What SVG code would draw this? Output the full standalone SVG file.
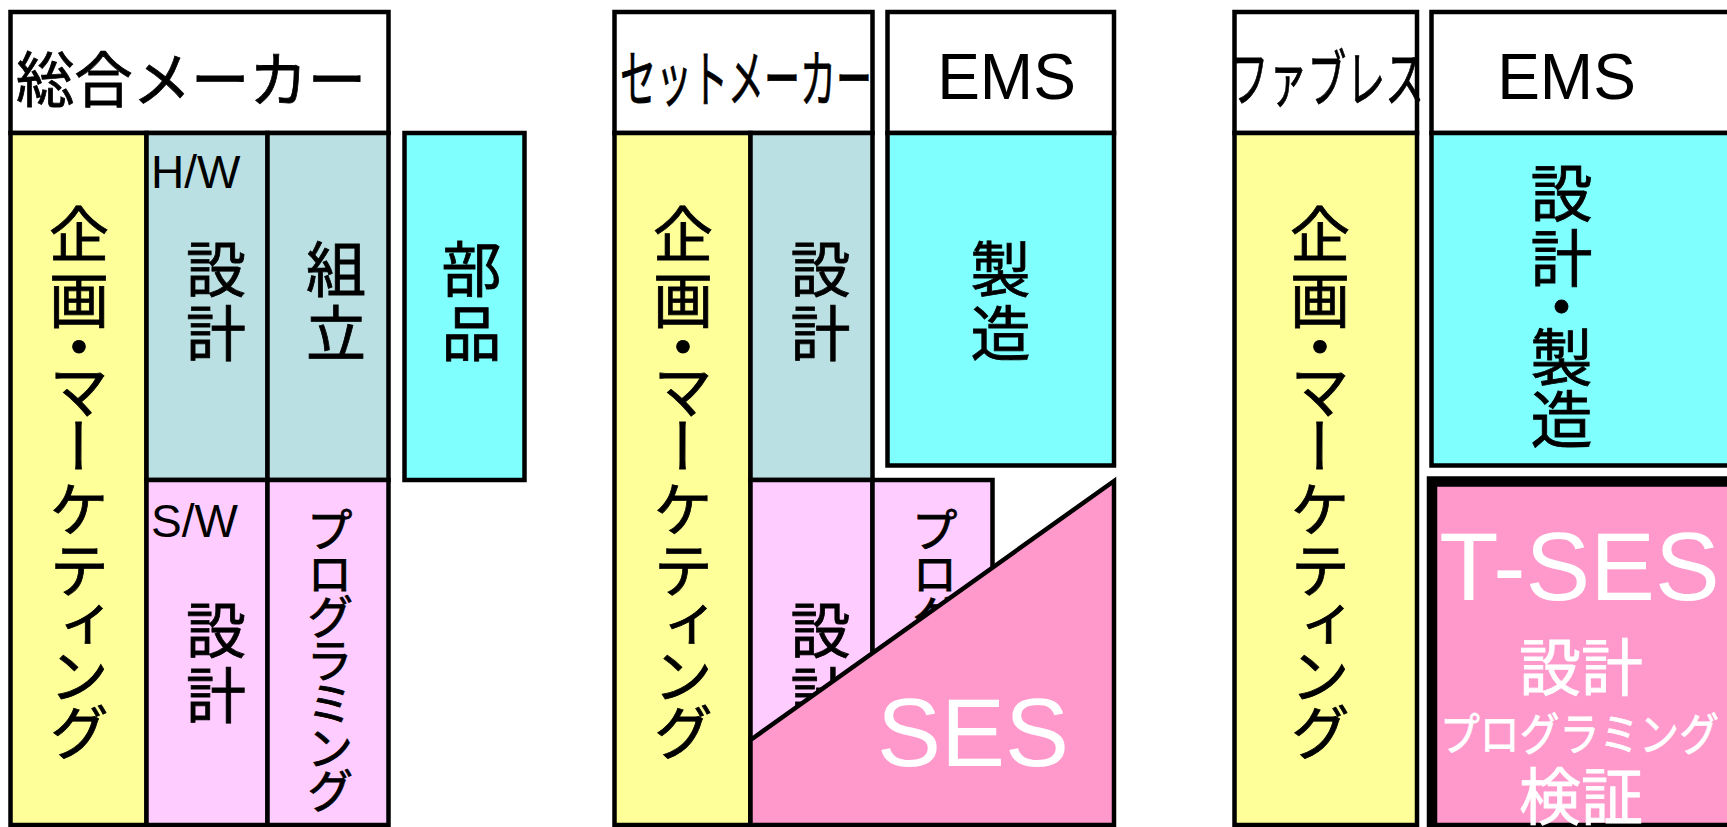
<svg xmlns="http://www.w3.org/2000/svg" width="1727" height="827" viewBox="0 0 1727 827">
<style>
  .box { stroke: #000; stroke-width: 4.5; stroke-linejoin: miter; }
  .white { fill: #FFFFFF; }
  .yellow { fill: #FFFF99; }
  .gray { fill: #BBE0E3; }
  .cyan { fill: #80FFFF; }
  .lpink { fill: #FFCCFF; }
  .pink { fill: #FF99CC; }
  .jp { font-family: "Noto Sans CJK JP", "Noto Sans", sans-serif; fill: #000; stroke: #000; stroke-width: 0.8; }
  .v { font-family: "Noto Sans CJK JP", sans-serif; writing-mode: vertical-rl; fill: #000; stroke: #000; stroke-width: 0.8; }
  .lat { font-family: "Liberation Sans", Arial, sans-serif; fill: #000; }
  .mid { text-anchor: middle; }
  .wt { fill: #FFFFFF; stroke: #FFFFFF; }
  .lat.wt { stroke: none; }
</style>
<rect x="0" y="0" width="1727" height="827" fill="#FFFFFF"/>

<!-- Panel 1: 総合メーカー -->
<g id="p1-header">
  <rect class="box white" x="10.5" y="12" width="378" height="121"/>
  <text class="jp" x="16" y="102" font-size="60" textLength="350" lengthAdjust="spacingAndGlyphs">総合メーカー</text>
</g>
<g id="p1-planning">
  <rect class="box yellow" x="10.5" y="133" width="136" height="692"/>
  <text class="v" x="79" y="204.5 270 317.5 361 416.5 479 540 595 646 702.5" font-size="60">企画・マーケティング</text>
</g>
<g id="p1-hw-design">
  <rect class="box gray" x="146.5" y="133" width="121" height="347"/>
  <text class="lat" x="151" y="188" font-size="46">H/W</text>
  <text class="jp mid" x="216" y="292" font-size="60">設</text>
  <text class="jp mid" x="216" y="356" font-size="60">計</text>
</g>
<g id="p1-assembly">
  <rect class="box gray" x="267.5" y="133" width="121" height="347"/>
  <text class="jp mid" x="336" y="292" font-size="60">組</text>
  <text class="jp mid" x="336" y="356" font-size="60">立</text>
</g>
<g id="p1-sw-design">
  <rect class="box lpink" x="146.5" y="480" width="121" height="345"/>
  <text class="lat" x="151" y="537" font-size="46">S/W</text>
  <text class="jp mid" x="216" y="653" font-size="60">設</text>
  <text class="jp mid" x="216" y="718" font-size="60">計</text>
</g>
<g id="p1-programming">
  <rect class="box lpink" x="267.5" y="480" width="121" height="345"/>
  <text class="v" x="330" y="506" font-size="47" letter-spacing="-3.5">プログラミング</text>
</g>
<g id="p1-parts">
  <rect class="box cyan" x="404.5" y="133" width="120" height="347"/>
  <text class="jp mid" x="471.5" y="292" font-size="60">部</text>
  <text class="jp mid" x="471.5" y="356" font-size="60">品</text>
</g>

<!-- Panel 2: セットメーカー + EMS -->
<g id="p2-header">
  <rect class="box white" x="614.5" y="12" width="258" height="121"/>
  <text class="jp" x="620" y="102" font-size="62" textLength="252" lengthAdjust="spacingAndGlyphs">セットメーカー</text>
</g>
<g id="p2-ems-header">
  <rect class="box white" x="887.5" y="12" width="226.5" height="121"/>
  <text class="lat mid" x="1006.5" y="99" font-size="64">EMS</text>
</g>
<g id="p2-planning">
  <rect class="box yellow" x="614.5" y="133" width="136" height="692"/>
  <text class="v" x="683" y="204.5 270 317.5 361 416.5 479 540 595 646 702.5" font-size="60">企画・マーケティング</text>
</g>
<g id="p2-hw-design">
  <rect class="box gray" x="750.5" y="133" width="122" height="347"/>
  <text class="jp mid" x="820.5" y="292" font-size="60">設</text>
  <text class="jp mid" x="820.5" y="356" font-size="60">計</text>
</g>
<g id="p2-manufacturing">
  <rect class="box cyan" x="887.5" y="133" width="226.5" height="332.5"/>
  <text class="jp mid" x="1000.5" y="292" font-size="60">製</text>
  <text class="jp mid" x="1000.5" y="356" font-size="60">造</text>
</g>
<g id="p2-sw-design">
  <rect class="box lpink" x="750.5" y="480" width="122" height="345"/>
  <text class="jp mid" x="820.5" y="653" font-size="60">設</text>
  <text class="jp mid" x="820.5" y="718" font-size="60">計</text>
</g>
<g id="p2-programming">
  <rect class="box lpink" x="872.5" y="480" width="120" height="345"/>
  <text class="v" x="935" y="506" font-size="47" letter-spacing="-3.5">プログラミング</text>
</g>
<g id="p2-ses">
  <polygon class="box pink" points="750.5,740 1114,481 1114,825 750.5,825"/>
  <text class="lat mid wt" x="973" y="766" font-size="96">SES</text>
</g>

<!-- Panel 3: ファブレス + EMS -->
<g id="p3-header">
  <rect class="box white" x="1234.5" y="12" width="182.5" height="121"/>
  <text class="jp" x="1230" y="102" font-size="62" textLength="194" lengthAdjust="spacingAndGlyphs">ファブレス</text>
</g>
<g id="p3-ems-header">
  <rect class="box white" x="1431.5" y="12" width="340" height="121"/>
  <text class="lat mid" x="1566.5" y="99" font-size="64">EMS</text>
</g>
<g id="p3-planning">
  <rect class="box yellow" x="1234.5" y="133" width="182.5" height="692"/>
  <text class="v" x="1320" y="204.5 270 317.5 361 416.5 479 540 595 646 702.5" font-size="60">企画・マーケティング</text>
</g>
<g id="p3-design-manufacturing">
  <rect class="box cyan" x="1431.5" y="133" width="340" height="332.5"/>
  <text class="v" x="1561.5" y="162.5 227.5 276 326 388" font-size="62">設計・製造</text>
</g>
<g id="p3-tses">
  <rect x="1432" y="481.5" width="340" height="346.5" fill="#FF99CC" stroke="#000" stroke-width="10.5"/>
  <text class="lat mid wt" x="1579.5" y="600" font-size="97">T-SES</text>
  <text class="jp mid wt" x="1581" y="691" font-size="62">設計</text>
  <text class="jp wt" x="1440" y="751" font-size="45" textLength="279" lengthAdjust="spacingAndGlyphs">プログラミング</text>
  <text class="jp mid wt" x="1581" y="820" font-size="62">検証</text>
</g>

<g id="connectors"></g>
</svg>
